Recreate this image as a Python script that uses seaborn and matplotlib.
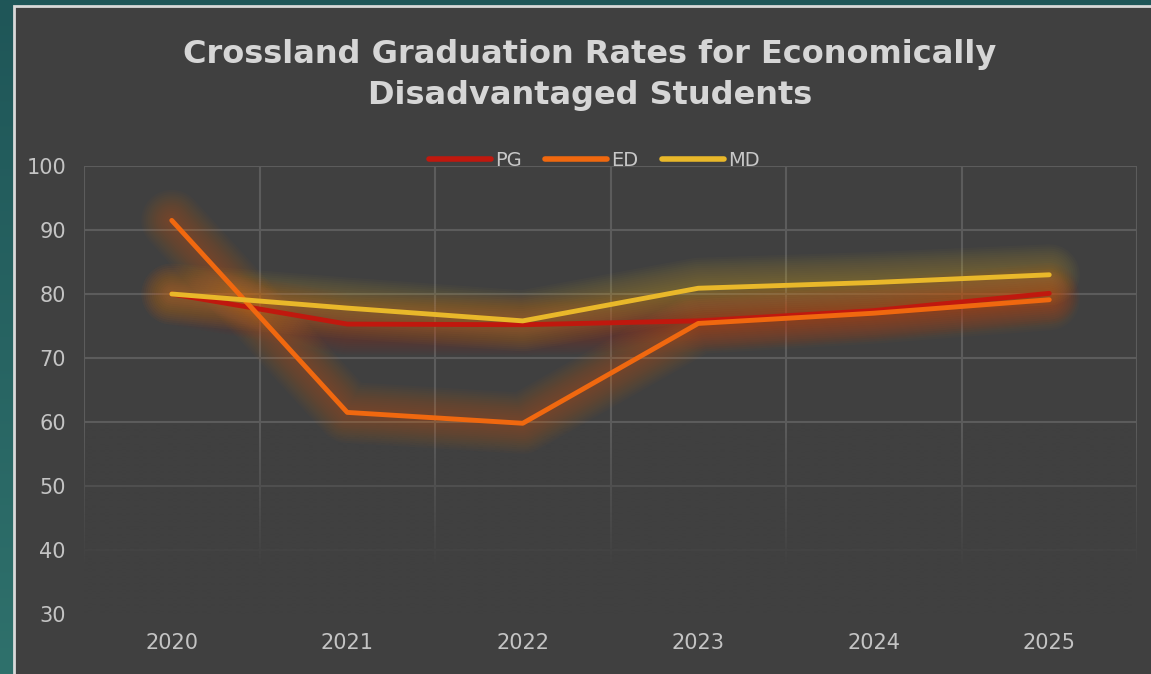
import numpy as np
import pandas as pd
import matplotlib
matplotlib.use("Agg")
import matplotlib.pyplot as plt
import seaborn as sns
from matplotlib.patches import Rectangle
from matplotlib.lines import Line2D
from matplotlib.colors import LinearSegmentedColormap

years = ["2020", "2021", "2022", "2023", "2024", "2025"]
pg = [80.0, 75.3, 75.2, 75.8, 77.4, 80.1]
ed = [91.5, 61.5, 59.8, 75.4, 77.0, 79.1]
md = [80.0, 77.8, 75.8, 80.9, 81.8, 83.0]
series_names = ["PG", "ED", "MD"]
series_colors = ["#c0180e", "#f0680f", "#e9b82a"]
title = "Crossland Graduation Rates for Economically\nDisadvantaged Students"

sns.set_theme(style="dark")
plt.rcParams['font.family'] = ['DejaVu Sans']

W, H = 1151, 674
fig = plt.figure(figsize=(W / 100, H / 100), dpi=100)
fig.patch.set_facecolor("#27605e")

# teal gradient background
bg = fig.add_axes([0, 0, 1, 1], zorder=-10)
grad = np.linspace(0, 1, 256).reshape(-1, 1)
tcmap = LinearSegmentedColormap.from_list("t", ["#1f5658", "#2f716c"])
bg.imshow(grad, aspect="auto", cmap=tcmap, extent=[0, 1, 0, 1], origin="upper")
bg.set_axis_off()

# inner chart panel (border visible only on left and top)
fig.patches.append(Rectangle((14 / W, -0.05), 1.1, 1.05 - 6 / H, transform=fig.transFigure,
                             facecolor="#404040", edgecolor="#d9d9d9", linewidth=2, zorder=-5))

ax = fig.add_axes([84 / W, 1 - 614 / H, (1137 - 84) / W, (614 - 166) / H])
ax.set_facecolor("none")

df = pd.DataFrame({"Year": years * 3,
                   "Value": pg + ed + md,
                   "Series": np.repeat(series_names, len(years))})
df["x"] = np.tile(np.arange(len(years)), 3)

# soft glow
for name, col in zip(series_names, series_colors):
    sub = df[df["Series"] == name]
    for lw in np.arange(44, 6, -3):
        ax.plot(sub["x"], sub["Value"], color=col, linewidth=lw, alpha=0.028,
                solid_capstyle="round", solid_joinstyle="round", zorder=2)

sns.lineplot(data=df, x="x", y="Value", hue="Series", palette=series_colors,
             hue_order=series_names, linewidth=3.5, ax=ax, legend=False, zorder=4,
             sort=False)
for ln in ax.get_lines()[-3:]:
    ln.set_solid_capstyle("round")

ax.set_xticks(range(len(years)))
ax.set_xticklabels(years)
ax.set_xticks(np.arange(-0.5, len(years)), minor=True)
ax.set_yticks(range(30, 101, 10))
ax.grid(False)
ax.grid(True, which="minor", axis="x", color="#5c5c5c", linewidth=1.5, zorder=0)
ax.grid(True, which="major", axis="y", color="#5c5c5c", linewidth=1.5, zorder=0)
ax.set_axisbelow(True)
for s in ax.spines.values():
    s.set_visible(False)
ax.tick_params(axis="both", which="both", length=0, colors="#c4c4c4", labelsize=15)
ax.tick_params(axis="x", pad=14)
ax.tick_params(axis="y", pad=13)
ax.set_xlabel("")
ax.set_ylabel("")

# fade gridlines towards the bottom
vals = np.linspace(30, 100, 300)
fade = np.clip((60 - vals) / (60 - 37), 0, 1)
rgba = np.zeros((300, 1, 4))
rgba[..., :3] = np.array([0x40, 0x40, 0x40]) / 255
rgba[..., 3] = fade[:, None]
ax.imshow(rgba, aspect="auto", extent=[-0.6, len(years) - 0.4, 30, 100],
          origin="lower", zorder=1, interpolation="bilinear")
ax.set_xlim(-0.5, len(years) - 0.5)
ax.set_ylim(30, 100)

fig.text(590 / W, 1 - 75 / H, title, ha="center", va="center", fontsize=23,
         fontweight="bold", color="#d6d6d6", linespacing=1.45)

handles = [Line2D([0], [0], color=c, linewidth=4, solid_capstyle="round") for c in series_colors]
leg = fig.legend(handles, series_names, loc="center", bbox_to_anchor=(594 / W, 1 - 160 / H),
                 ncol=3, frameon=False, fontsize=14, handlelength=3.2, columnspacing=1.2,
                 handletextpad=0.2, labelcolor="#c8c8c8")

fig.savefig("out.png", dpi=100, facecolor=fig.get_facecolor())
